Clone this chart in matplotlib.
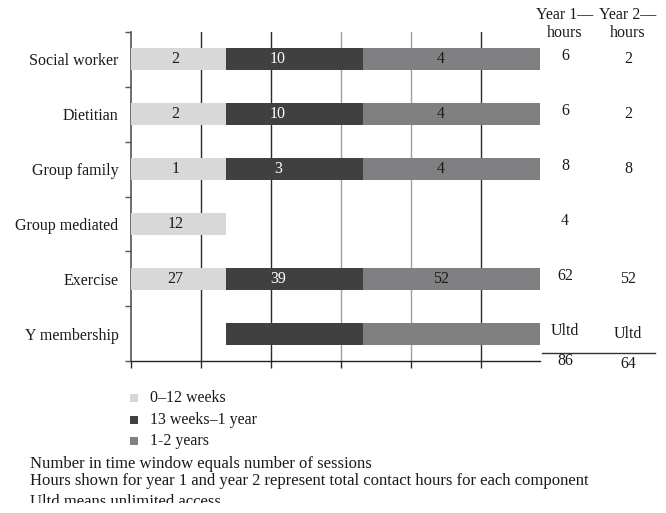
import matplotlib
matplotlib.use("Agg")
import matplotlib.pyplot as plt
import numpy as np

plt.rcParams['font.family'] = ['Liberation Serif', 'DejaVu Serif']

# ---- data ----
components = ["Social worker", "Dietitian", "Group family", "Group mediated", "Exercise", "Y membership"]
periods = ["0\u201312 weeks", "13 weeks\u20131 year", "1-2 years"]
# period boundaries on the timeline axis (grid units)
period_edges = [0.0, 1.357, 3.31, 5.84]
# sessions per time window: None = no bar, "" = bar without number
sessions_p1 = ["2", "2", "1", "12", "27", None]
sessions_p2 = ["10", "10", "3", None, "39", ""]
sessions_p3 = ["4", "4", "4", None, "52", ""]
year1_hours = ["6", "6", "8", "4", "62", "Ultd"]
year2_hours = ["2", "2", "8", "", "52", "Ultd"]
year1_total = "86"
year2_total = "64"
notes = ["Number in time window equals number of sessions",
         "Hours shown for year 1 and year 2 represent total contact hours for each component",
         "Ultd means unlimited access"]

colors = ["#d8d8d8", "#404040", "#808082"]
label_colors = ["#1a1a1a", "#ffffff", "#1a1a1a"]
label_frac = [0.47, 0.38, 0.44]
FS = 11.5

W, H = 666, 513
fig = plt.figure(figsize=(W / 100, H / 100), dpi=100)

def fx(px):
    return px / W

def fy(py):
    return 1 - py / H

ax = fig.add_axes([fx(131), fy(361), fx(540) - fx(131), fy(32) - fy(361)])

y = np.arange(len(components))
series = [sessions_p1, sessions_p2, sessions_p3]
for k, ser in enumerate(series):
    left = period_edges[k]
    width = period_edges[k + 1] - period_edges[k]
    for i, lab in enumerate(ser):
        if lab is None:
            continue
        ax.barh(y[i], width, left=left, height=0.4, color=colors[k], zorder=3, linewidth=0)
        if lab:
            ax.text(left + width * label_frac[k], y[i], lab, ha='center', va='center',
                    fontsize=FS, color=label_colors[k], zorder=4)

grid_colors = ["#2a2a2a", "#2a2a2a", "#a0a0a0", "#a0a0a0", "#2a2a2a"]
for gx, gc in zip(range(1, 6), grid_colors):
    ax.axvline(gx, color=gc, lw=1.0, zorder=1)

ax.set_xlim(period_edges[0], period_edges[-1])
ax.set_ylim(len(components) - 0.5, -0.5)
ax.set_xticks(range(0, 6))
ax.set_xticklabels([])
ax.set_yticks(np.arange(-0.5, len(components), 1.0))
ax.set_yticklabels([])
ax.set_yticks(y, minor=True)
ax.set_yticklabels(components, minor=True, fontsize=FS, color="#1a1a1a")
ax.tick_params(axis='y', which='minor', length=0, pad=9)
ax.tick_params(axis='y', which='major', length=4, width=1, color="#555555", direction='out')
ax.tick_params(axis='x', which='major', length=5, width=1, color="#2a2a2a", direction='out')
for s in ['top', 'right']:
    ax.spines[s].set_visible(False)
ax.spines['left'].set_color("#555555")
ax.spines['left'].set_linewidth(1.2)
ax.spines['bottom'].set_color("#222222")
ax.spines['bottom'].set_linewidth(1.0)

# right-hand hour columns
col1_x, col2_x = 565, 628
fig.text(fx(col1_x), fy(15), "Year 1\u2014", ha='center', va='center', fontsize=FS, color="#1a1a1a")
fig.text(fx(col1_x), fy(33), "hours", ha='center', va='center', fontsize=FS, color="#1a1a1a")
fig.text(fx(col2_x), fy(15), "Year 2\u2014", ha='center', va='center', fontsize=FS, color="#1a1a1a")
fig.text(fx(col2_x), fy(33), "hours", ha='center', va='center', fontsize=FS, color="#1a1a1a")
for i in range(len(components)):
    ax.annotate(year1_hours[i], xy=(1.0, y[i]), xycoords=('axes fraction', 'data'),
                xytext=(25, 3), textcoords='offset pixels', ha='center', va='center',
                fontsize=FS, color="#1a1a1a", annotation_clip=False)
    ax.annotate(year2_hours[i], xy=(1.0, y[i]), xycoords=('axes fraction', 'data'),
                xytext=(88, 0), textcoords='offset pixels', ha='center', va='center',
                fontsize=FS, color="#1a1a1a", annotation_clip=False)
fig.add_artist(plt.Line2D([fx(542), fx(655)], [fy(353), fy(353)], color="#333333", lw=1.0))
fig.text(fx(col1_x), fy(361), year1_total, ha='center', va='center', fontsize=FS, color="#1a1a1a")
fig.text(fx(col2_x), fy(364), year2_total, ha='center', va='center', fontsize=FS, color="#1a1a1a")

# legend
for j, (name, c) in enumerate(zip(periods, colors)):
    yc = 398 + 21.5 * j
    fig.add_artist(plt.Rectangle((fx(130), fy(yc + 4)), fx(8), 8 / H, color=c, lw=0))
    fig.text(fx(150), fy(yc), name, ha='left', va='center', fontsize=FS, color="#1a1a1a")

# notes
note_baselines = [468, 485, 506]
for t, yb in zip(notes, note_baselines):
    fig.text(fx(30), fy(yb), t, ha='left', va='baseline', fontsize=12, color="#1a1a1a")
# the source image is cropped through the last note line
fig.add_artist(plt.Rectangle((0, 0), 1, fy(503), color="white", lw=0, zorder=10))

fig.savefig("out.png", dpi=100)
